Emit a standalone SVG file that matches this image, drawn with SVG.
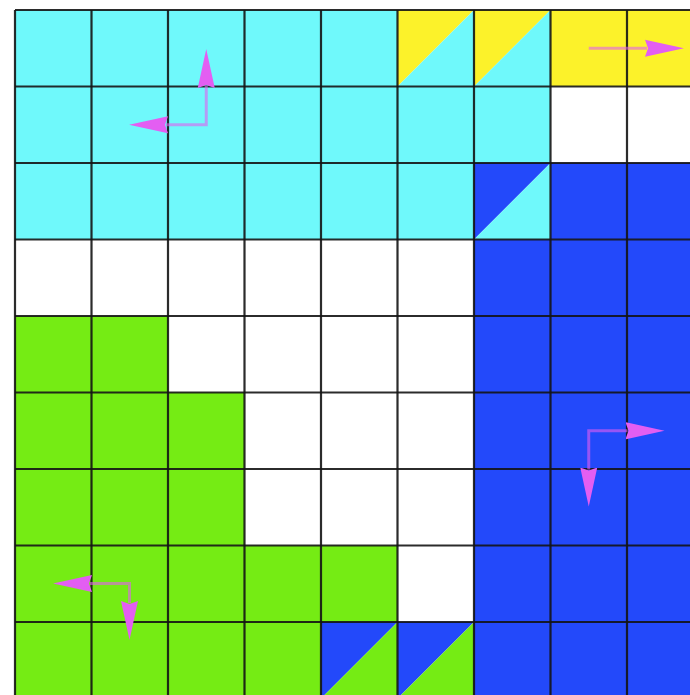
<svg xmlns="http://www.w3.org/2000/svg" width="690" height="695" viewBox="0 0 690 695">
<defs>
<style>
.c{fill:#6ff9fb}.y{fill:#fcf22a}.b{fill:#2349fa}.g{fill:#75ec14}.w{fill:#ffffff}
.grid line{stroke:#141414;stroke-width:2.2;stroke-opacity:0.9}
.shaft{fill:none;stroke:#e35ef2;stroke-opacity:0.6;stroke-width:3;marker-end:url(#ah)}
.two{marker-start:url(#ah)}
</style>
<marker id="ah" viewBox="0 0 40 20" refX="2" refY="10" markerWidth="40" markerHeight="20" markerUnits="userSpaceOnUse" orient="auto-start-reverse">
<path d="M0,1.5 L39,10 L0,18.5 L3,10 Z" fill="#e35ef2"/>
</marker>
</defs>
<rect x="0" y="0" width="690" height="695" fill="#ffffff"/>
<g id="cells">
<rect class="c" x="15" y="10" width="382.5" height="76.5"/>
<g id="r0c5"><path class="y" d="M397.5,10 H474 L397.5,86.5 Z"/><path class="c" d="M474,10 V86.5 H397.5 Z"/></g>
<g id="r0c6"><path class="y" d="M474,10 H550.5 L474,86.5 Z"/><path class="c" d="M550.5,10 V86.5 H474 Z"/></g>
<rect class="y" x="550.5" y="10" width="140" height="76.5"/>
<rect class="c" x="15" y="86.5" width="535.5" height="76.5"/>
<rect class="w" x="550.5" y="86.5" width="140" height="76.5"/>
<rect class="c" x="15" y="163" width="459" height="76.5"/>
<g id="r2c6"><path class="b" d="M474,163 H550.5 L474,239.5 Z"/><path class="c" d="M550.5,163 V239.5 H474 Z"/></g>
<rect class="b" x="550.5" y="163" width="140" height="76.5"/>
<rect class="b" x="474" y="239.5" width="216" height="456"/>
<rect class="g" x="15" y="316" width="153" height="76.5"/>
<rect class="g" x="15" y="392.5" width="229.5" height="153"/>
<rect class="g" x="15" y="545.5" width="382.5" height="76.5"/>
<rect class="g" x="15" y="622" width="306" height="73"/>
<g id="r8c4"><path class="b" d="M321,622 H397.5 L321,698.5 Z"/><path class="g" d="M397.5,622 V698.5 H321 Z"/></g>
<g id="r8c5"><path class="b" d="M397.5,622 H474 L397.5,698.5 Z"/><path class="g" d="M474,622 V698.5 H397.5 Z"/></g>
</g>
<g class="grid">
<line x1="15" y1="10" x2="15" y2="695"/>
<line x1="91.5" y1="10" x2="91.5" y2="695"/>
<line x1="168" y1="10" x2="168" y2="695"/>
<line x1="244.5" y1="10" x2="244.5" y2="695"/>
<line x1="321" y1="10" x2="321" y2="695"/>
<line x1="397.5" y1="10" x2="397.5" y2="695"/>
<line x1="474" y1="10" x2="474" y2="695"/>
<line x1="550.5" y1="10" x2="550.5" y2="695"/>
<line x1="627" y1="10" x2="627" y2="695"/>
<line x1="15" y1="10" x2="690" y2="10"/>
<line x1="15" y1="86.5" x2="690" y2="86.5"/>
<line x1="15" y1="163" x2="690" y2="163"/>
<line x1="15" y1="239.5" x2="690" y2="239.5"/>
<line x1="15" y1="316" x2="690" y2="316"/>
<line x1="15" y1="392.5" x2="690" y2="392.5"/>
<line x1="15" y1="469" x2="690" y2="469"/>
<line x1="15" y1="545.5" x2="690" y2="545.5"/>
<line x1="15" y1="622" x2="690" y2="622"/>
</g>
<g id="connectors">
<polyline class="shaft two" points="206.25,86 206.25,124.75 166,124.75"/>
<line class="shaft" x1="588.75" y1="48.25" x2="647" y2="48.25"/>
<polyline class="shaft two" points="588.75,469.5 588.75,430.75 627.5,430.75"/>
<polyline class="shaft two" points="90,583.5 129.5,583.5 129.5,603"/>
</g>
</svg>
